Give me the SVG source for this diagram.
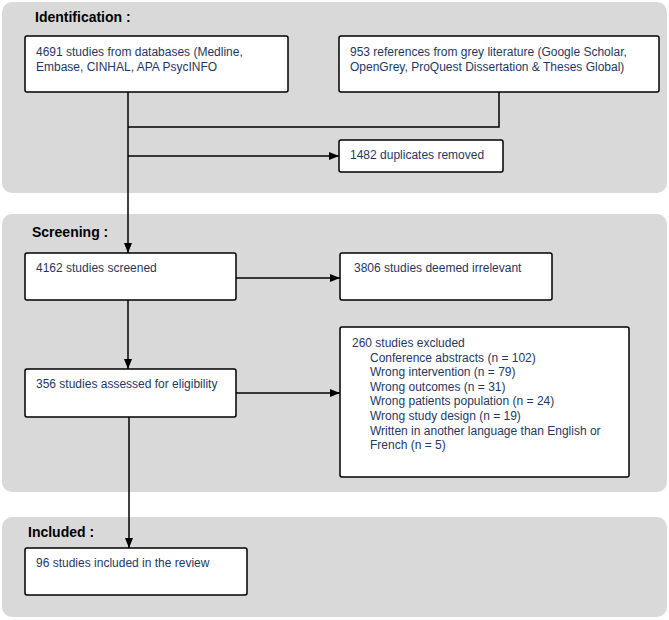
<svg xmlns="http://www.w3.org/2000/svg" width="669" height="620" viewBox="0 0 669 620">
<style>
.panel{fill:#d9d9d9;stroke:none}
.box{fill:#fff;stroke:#000;stroke-width:1.5}
.title{font-family:"Liberation Sans",Arial,sans-serif;font-size:14px;font-weight:bold;fill:#000}
.t{font-family:"Liberation Sans",Arial,sans-serif;font-size:12px;fill:#1f3864}
.c{fill:none;stroke:#000;stroke-width:1.5}
</style>
<defs>
<marker id="ah" markerUnits="userSpaceOnUse" markerWidth="10" markerHeight="10" viewBox="0 0 10 10" refX="10" refY="5" orient="auto">
<path d="M0,1 L10,5 L0,9 Z" fill="#000"/>
</marker>
</defs>
<g id="panels">
<rect class="panel" x="2" y="2" width="665" height="191" rx="10"/>
<rect class="panel" x="2" y="214" width="665" height="278" rx="10"/>
<rect class="panel" x="2" y="517" width="665" height="100" rx="10"/>
<text class="title" x="35" y="22">Identification :</text>
<text class="title" x="32" y="237">Screening :</text>
<text class="title" x="28" y="537">Included :</text>
</g>
<g id="connectors">
<path class="c" d="M128,92 V253" marker-end="url(#ah)"/>
<path class="c" d="M499,92 V127 H128"/>
<path class="c" d="M128,156 H339" marker-end="url(#ah)"/>
<path class="c" d="M236,278 H340" marker-end="url(#ah)"/>
<path class="c" d="M128,300 V369" marker-end="url(#ah)"/>
<path class="c" d="M236,393 H340" marker-end="url(#ah)"/>
<path class="c" d="M129,417 V548" marker-end="url(#ah)"/>
</g>
<g id="databases">
<rect class="box" x="25" y="36" width="263" height="56" rx="2"/>
<text class="t" x="36" y="56">4691 studies from databases (Medline,</text>
<text class="t" x="36" y="71">Embase, CINHAL, APA PsycINFO</text>
</g>
<g id="grey">
<rect class="box" x="339" y="36" width="320" height="56" rx="2"/>
<text class="t" x="350" y="56">953 references from grey literature (Google Scholar,</text>
<text class="t" x="350" y="71">OpenGrey, ProQuest Dissertation &amp; Theses Global)</text>
</g>
<g id="duplicates">
<rect class="box" x="339" y="140" width="164" height="32" rx="2"/>
<text class="t" x="350" y="159">1482 duplicates removed</text>
</g>
<g id="screened">
<rect class="box" x="25" y="253" width="211" height="47" rx="2"/>
<text class="t" x="36" y="272">4162 studies screened</text>
</g>
<g id="irrelevant">
<rect class="box" x="340" y="253" width="212" height="47" rx="2"/>
<text class="t" x="354" y="272">3806 studies deemed irrelevant</text>
</g>
<g id="eligibility">
<rect class="box" x="25" y="369" width="211" height="48" rx="2"/>
<text class="t" x="36" y="388">356 studies assessed for eligibility</text>
</g>
<g id="excluded">
<rect class="box" x="340" y="327" width="289" height="150" rx="2"/>
<text class="t" x="352" y="347">260 studies excluded</text>
<text class="t" x="370" y="362">Conference abstracts (n = 102)</text>
<text class="t" x="370" y="376">Wrong intervention (n = 79)</text>
<text class="t" x="370" y="391">Wrong outcomes (n = 31)</text>
<text class="t" x="370" y="405">Wrong patients population (n = 24)</text>
<text class="t" x="370" y="420">Wrong study design (n = 19)</text>
<text class="t" x="370" y="435">Written in another language than English or</text>
<text class="t" x="370" y="449">French (n = 5)</text>
</g>
<g id="included">
<rect class="box" x="25" y="548" width="222" height="47" rx="2"/>
<text class="t" x="36" y="567">96 studies included in the review</text>
</g>
</svg>
